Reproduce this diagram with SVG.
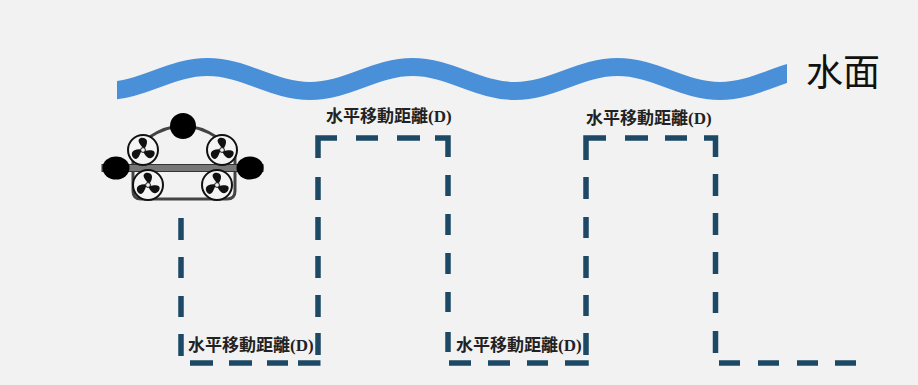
<svg xmlns="http://www.w3.org/2000/svg" xmlns:xlink="http://www.w3.org/1999/xlink" width="918" height="385" viewBox="0 0 918 385">
  <style>
    .route { fill: none; stroke: #1c4a66; stroke-width: 5.5; stroke-linecap: butt; stroke-linejoin: miter; }
    .lbl { font-family: "Noto Sans CJK TC", "Noto Sans CJK SC", sans-serif; font-size: 17px; font-weight: 700; fill: #222; }
    .lbl .d { font-family: "Liberation Serif", serif; font-weight: 700; }
    .frame { fill: none; stroke: #444; stroke-width: 3; }
    .fan { fill: #f4f4f4; stroke: #111; stroke-width: 2; }
  </style>
  <defs>
    <clipPath id="waveClip"><rect x="117" y="40" width="670" height="80"/></clipPath>
    <!-- three-blade propeller inside a ring -->
    <g id="prop">
      <circle class="fan" r="15"/>
      <g fill="#111">
        <path id="blade" d="M0,-2 C-2.5,-5 -7,-10 -2.5,-12 C2,-13.5 7,-10 2,-2 Z"/>
        <use xlink:href="#blade" transform="rotate(120)"/>
        <use xlink:href="#blade" transform="rotate(240)"/>
      </g>
      <circle r="2.4" fill="#f4f4f4" stroke="#111" stroke-width="1"/>
    </g>
  </defs>

  <rect width="918" height="385" fill="#f2f2f2"/>

  <!-- water surface -->
  <g id="surface">
    <path clip-path="url(#waveClip)" d="M105 91 C142.3 91 170.2 67 207.5 67 S272.7 91 310 91 S375.2 67 412.5 67 S477.7 91 515 91 S580.2 67 617.5 67 S682.7 91 720 91 S785.2 67 822.5 67" fill="none" stroke="#4a90d9" stroke-width="18"/>
    <text x="806" y="86" font-family="Noto Sans CJK TC, Noto Sans CJK SC, sans-serif" font-size="37" fill="#111">水面</text>
  </g>

  <!-- underwater vehicle -->
  <g id="rov">
    <path class="frame" d="M148 138 Q183 114 218 138"/>
    <path class="frame" d="M133 150 V191 Q133 199 141 199 H227 Q235 199 235 191 V150"/>
    <rect x="102" y="164.5" width="161" height="7" fill="#777" stroke="#333" stroke-width="1"/>
    <ellipse cx="116" cy="168" rx="13.5" ry="11.5" fill="#000"/>
    <ellipse cx="250" cy="168" rx="13.5" ry="11.5" fill="#000"/>
    <circle cx="183" cy="126" r="13" fill="#000"/>
    <use xlink:href="#prop" x="143" y="150"/>
    <use xlink:href="#prop" x="222" y="150"/>
    <use xlink:href="#prop" x="148" y="185"/>
    <use xlink:href="#prop" x="217" y="185"/>
  </g>

  <!-- survey route -->
  <g id="connectors">
    <path class="route" d="M181 218V240 M181 257V278 M181 296V317 M181 334V356
      M190 363H213 M229 363H252 M267 363H288 M298 363H320.5
      M318 355V333 M318 317V295 M318 278V256 M318 240V217 M318 200V177 M318 158V138H337
      M356 138H378 M397 138H420 M435 138H448V157
      M448 175V196 M448 214V235 M448 253V274 M448 292V312 M448 332V352
      M449 363H471 M488 363H510 M527 363H548 M565 363H588.75
      M586 355V333 M586 316V295 M586 278V256 M586 238V217 M586 199V177 M586 160V138H606
      M625 138H648 M665 138H687 M704 138H715.5V157
      M715.5 174V196 M715.5 213V235 M715.5 252V274 M715.5 292V313 M715.5 331V353
      M719 363H740 M758 363H779 M797 363H818 M835 363H856"/>
  </g>

  <!-- distance labels -->
  <g id="label-top-1"><text class="lbl" x="326" y="122">水平移動距離<tspan class="d">(D)</tspan></text></g>
  <g id="label-top-2"><text class="lbl" x="586" y="124">水平移動距離<tspan class="d">(D)</tspan></text></g>
  <g id="label-bottom-1"><text class="lbl" x="188" y="351">水平移動距離<tspan class="d">(D)</tspan></text></g>
  <g id="label-bottom-2"><text class="lbl" x="456" y="351">水平移動距離<tspan class="d">(D)</tspan></text></g>
</svg>
